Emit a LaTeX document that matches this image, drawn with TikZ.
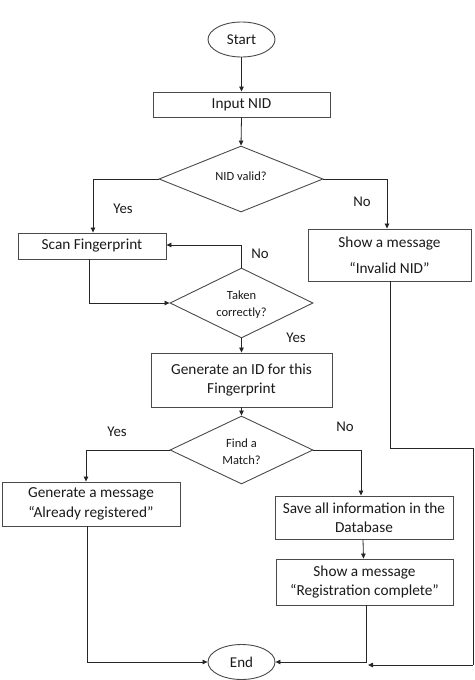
\documentclass[tikz,border=0pt]{standalone}
\usepackage{fontspec}
\setmainfont{Carlito}
\usetikzlibrary{shapes.geometric,arrows.meta}
\definecolor{linec}{HTML}{262626}
\definecolor{boxc}{HTML}{4A4A4A}
\definecolor{txtc}{HTML}{1A1A1A}
\begin{document}
\begin{tikzpicture}[x=1pt,y=-1pt,
  every node/.style={text=txtc},
  proc/.style={draw=boxc, line width=0.9pt, rectangle, inner sep=0pt, align=center,
    font=\fontsize{15.3}{19.5}\selectfont},
  term/.style={draw=boxc, line width=0.9pt, ellipse, inner sep=0pt,
    minimum width=67pt, minimum height=35pt, font=\fontsize{15}{17}\selectfont},
  dia/.style={draw=boxc, line width=0.9pt, diamond, inner sep=0pt},
  dtext/.style={align=center, font=\fontsize{12.5}{17}\selectfont, inner sep=0pt},
  lbl/.style={font=\fontsize{14.8}{17}\selectfont, inner sep=0pt},
  conn/.style={draw=linec, line width=0.8pt},
  arr/.style={conn, -{Triangle[length=5pt,width=4.5pt]}}
]
\useasboundingbox (0,0) rectangle (474,680);
% nodes
\node[term] (start) at (241.5,39.5) {Start};
\node[proc, minimum width=177pt, minimum height=25pt] (input) at (241.5,104.5) {Input NID};
\node[dia, minimum width=164pt, minimum height=66pt] (d1) at (241,179) {};
\node[dtext] (d1t) at (241,176.5) {NID valid?};
\node[proc, minimum width=148pt, minimum height=26pt] (scan) at (92,246) {Scan Fingerprint};
\node[proc, minimum width=163pt, minimum height=52pt] (invalid) at (389.5,255) {Show a message\\[7pt]“Invalid NID”};
\node[dia, minimum width=143pt, minimum height=70pt] (d2) at (241.5,303) {};
\node[dtext] (d2t) at (241.5,305) {Taken\\correctly?};
\node[proc, minimum width=181pt, minimum height=54pt] (genid) at (241.5,380) {Generate an ID for this\\Fingerprint};
\node[dia, minimum width=143pt, minimum height=68pt] (d3) at (241.5,450) {};
\node[dtext] (d3t) at (241.5,452) {Find a\\Match?};
\node[proc, minimum width=178pt, minimum height=44pt] (genmsg) at (91,504) {Generate a message\\“Already registered”};
\node[proc, minimum width=178pt, minimum height=43pt] (save) at (364,517.5) {Save all information in the\\Database};
\node[proc, minimum width=177pt, minimum height=46pt] (reg) at (364.5,582) {Show a message\\“Registration complete”};
\node[term] (end) at (241.5,662) {End};
% labels
\node[lbl] (l1) at (123,209) {Yes};
\node[lbl] (l2) at (362,202) {No};
\node[lbl] (l3) at (260,254) {No};
\node[lbl] (l4) at (296,338) {Yes};
\node[lbl] (l5) at (117,432) {Yes};
\node[lbl] (l6) at (345,427) {No};
% coordinates
\coordinate (c1) at (390,448);
\coordinate (c2) at (473,448);
\coordinate (c3) at (473,665);
\coordinate (c4) at (368,665);
% connectors
\draw[arr] (start.south) -- (input.north);
\draw[arr] (input.south) -- (d1.north);
\draw[arr] (d1.west) -| ([xshift=1pt]scan.north);
\draw[arr] (d1.east) -| ([xshift=-2.5pt]invalid.north);
\draw[arr] (d2.north) |- ([yshift=1pt]scan.east);
\draw[arr] ([xshift=-3pt]scan.south) |- (d2.west);
\draw[arr] (d2.south) -- (genid.north);
\draw[arr] (genid.south) -- (d3.north);
\draw[arr] (d3.west) -| ([xshift=-5pt]genmsg.north);
\draw[arr] (d3.east) -| ([xshift=-3pt]save.north);
\draw[arr] ([xshift=-1pt]save.south) -- ([xshift=-1pt]reg.north);
\draw[arr] ([xshift=-4pt]genmsg.south) |- (end.west);
\draw[arr] ([xshift=1.5pt]reg.south) |- (end.east);
\draw[conn] ([xshift=0.5pt]invalid.south) -- (c1) -- (c2) -- (c3);
\draw[arr] (c3) -- (c4);
\end{tikzpicture}
\end{document}
